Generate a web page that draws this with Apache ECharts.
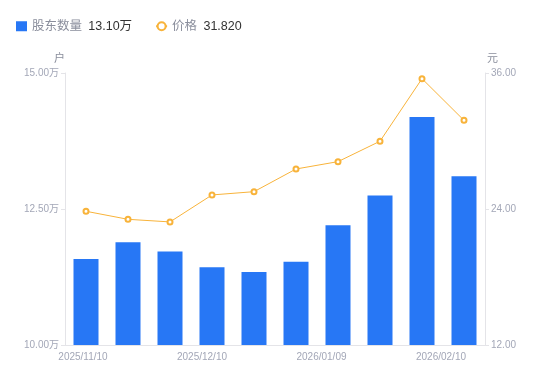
<!DOCTYPE html>
<html><head><meta charset="utf-8">
<script src="https://cdn.jsdelivr.net/npm/echarts@6/dist/echarts.min.js"></script>
<style>html,body{margin:0;padding:0;background:#fff}#c{width:550px;height:381px}</style>
</head><body><div id="c"></div>
<script>
const categories = ['2025/11/10','2025/11/20','2025/11/30','2025/12/10','2025/12/20','2025/12/31','2026/01/09','2026/01/20','2026/01/31','2026/02/10'];
const holders = [11.58, 11.89, 11.72, 11.43, 11.34, 11.53, 12.20, 12.75, 14.19, 13.10]; // 万户
const prices = [23.80, 23.09, 22.86, 25.24, 25.53, 27.53, 28.18, 29.98, 35.50, 31.82];
const leftTicks = [10, 12.5, 15];
const rightTicks = [12, 24, 36];
const labelShift = {0: 6, 3: 20, 6: 33, 9: 46};

const chart = echarts.init(document.getElementById('c'));
const gray = '#a3a7b7';
const font = '"Liberation Sans", Arial, "Noto Sans CJK SC", sans-serif';
chart.setOption({
  animation: false,
  textStyle: {fontFamily: font},
  legend: {
    left: 11, top: 15, itemGap: 23,
    itemWidth: 11, itemHeight: 10,
    textStyle: {fontFamily: font, rich: {
      n: {color: '#8a8e9c', fontSize: 12.5, fontFamily: font},
      v: {color: '#333', fontSize: 12.5, fontFamily: font, padding: [0,0,0,3]}
    }},
    data: [
      {name: '股东数量', icon: 'rect'},
      {name: '价格'}
    ],
    formatter: function (name) {
      if (name === '股东数量') return '{n|股东数量} {v|' + holders[holders.length-1].toFixed(2) + '万}';
      return '{n|价格} {v|' + prices[prices.length-1].toFixed(3) + '}';
    }
  },
  grid: {left: 65, right: 65, top: 73, bottom: 36},
  xAxis: {
    type: 'category', data: categories,
    axisLine: {lineStyle: {color: '#e4e4e8'}},
    axisTick: {show: false},
    axisLabel: {
      interval: 2, color: gray, fontSize: 10, margin: 7, fontFamily: font,
      formatter: function (v, i) { return '{p' + i + '|' + v + '}'; },
      rich: {
        p0: {padding: [0, labelShift[0], 0, 0], color: gray, fontSize: 10, fontFamily: font},
        p3: {padding: [0, labelShift[3], 0, 0], color: gray, fontSize: 10, fontFamily: font},
        p6: {padding: [0, labelShift[6], 0, 0], color: gray, fontSize: 10, fontFamily: font},
        p9: {padding: [0, labelShift[9], 0, 0], color: gray, fontSize: 10, fontFamily: font}
      }
    }
  },
  yAxis: [{
    type: 'value', name: '户', min: leftTicks[0], max: leftTicks[2], interval: 2.5,
    nameTextStyle: {color: '#8a8e9c', fontSize: 11, align: 'right', padding: [0, 0, -1, 0]},
    nameGap: 10,
    axisLine: {show: true, lineStyle: {color: '#e4e4e8'}},
    axisTick: {show: true, length: 4, lineStyle: {color: '#e4e4e8'}},
    splitLine: {show: false},
    axisLabel: {color: gray, fontSize: 10, margin: 6, formatter: v => v.toFixed(2) + '万'}
  }, {
    type: 'value', name: '元', min: rightTicks[0], max: rightTicks[2], interval: 12,
    nameTextStyle: {color: '#8a8e9c', fontSize: 11, align: 'left', padding: [0, 0, -1, 2]},
    nameGap: 10,
    axisLine: {show: true, lineStyle: {color: '#e4e4e8'}},
    axisTick: {show: true, length: 4, lineStyle: {color: '#e4e4e8'}},
    splitLine: {show: false},
    axisLabel: {color: gray, fontSize: 10, margin: 6, formatter: v => v.toFixed(2)}
  }],
  series: [{
    name: '股东数量', type: 'bar', data: holders, barWidth: 25,
    itemStyle: {color: '#2777f5'}
  }, {
    name: '价格', type: 'line', yAxisIndex: 1, data: prices,
    symbol: 'emptyCircle', symbolSize: 5,
    lineStyle: {color: '#f8b33a', width: 1},
    itemStyle: {color: '#f8b33a', borderWidth: 2}
  }]
});
</script></body></html>
